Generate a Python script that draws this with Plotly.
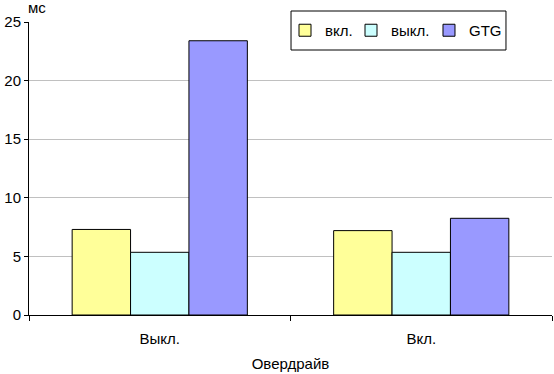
import plotly.graph_objects as go

categories = ["Выкл.", "Вкл."]
series_names = ["вкл.", "выкл.", "GTG"]
vkl = [7.3, 7.2]
vykl = [5.35, 5.35]
gtg = [23.4, 8.25]
colors = ["#FFFF99", "#CCFFFF", "#9999FF"]
y_ticks = [0, 5, 10, 15, 20, 25]

FAM = "Liberation Sans, Arial, sans-serif"
font = dict(family=FAM, size=15, color="black")

legend_ids = ["legend", "legend2", "legend3"]
legend_x = [0.4895, 0.6157, 0.7648]

fig = go.Figure()
for name, vals, c, lid in zip(series_names, [vkl, vykl, gtg], colors, legend_ids):
    fig.add_trace(go.Bar(x=categories, y=vals, name=name, legend=lid,
                         marker=dict(color=c, line=dict(color="black", width=1))))

legends = {}
for lid, lx in zip(legend_ids, legend_x):
    legends[lid] = dict(orientation="h", x=lx, y=0.971, xanchor="left", yanchor="middle",
                        borderwidth=0, bgcolor="rgba(0,0,0,0)",
                        font=dict(family=FAM, size=15, color="black"), itemwidth=30)

fig.update_layout(
    width=554, height=374,
    margin=dict(l=29, r=2, t=22, b=59, autoexpand=False),
    paper_bgcolor="white", plot_bgcolor="white",
    font=font,
    barmode="group", bargap=0.33, bargroupgap=0,
    showlegend=True,
    xaxis=dict(showline=True, linecolor="black", linewidth=1, automargin=False,
               ticks="outside", tickson="boundaries", ticklen=5, tickcolor="black",
               tickfont=font, ticklabelstandoff=10,
               title=dict(text="Овердрайв", standoff=12, font=font), showgrid=False),
    yaxis=dict(range=[0, 25], tickvals=y_ticks, showline=True, linecolor="black",
               linewidth=1, ticks="outside", ticklen=4, tickcolor="black",
               tickfont=font, automargin=False,
               showgrid=True, gridcolor="#C0C0C0", gridwidth=1, zeroline=False),
    shapes=[dict(type="rect", xref="paper", yref="paper", x0=0.501, x1=0.912,
                 y0=0.9044, y1=1.0375, line=dict(color="black", width=1),
                 fillcolor="white", layer="above")],
    annotations=[dict(text="мс", xref="paper", yref="paper", x=-0.006, y=1.05,
                      xanchor="left", yanchor="middle", showarrow=False, font=font)],
    **legends,
)
fig.write_html("out.html", config={"displayModeBar": False},
               post_script="document.body.style.margin='0';")
